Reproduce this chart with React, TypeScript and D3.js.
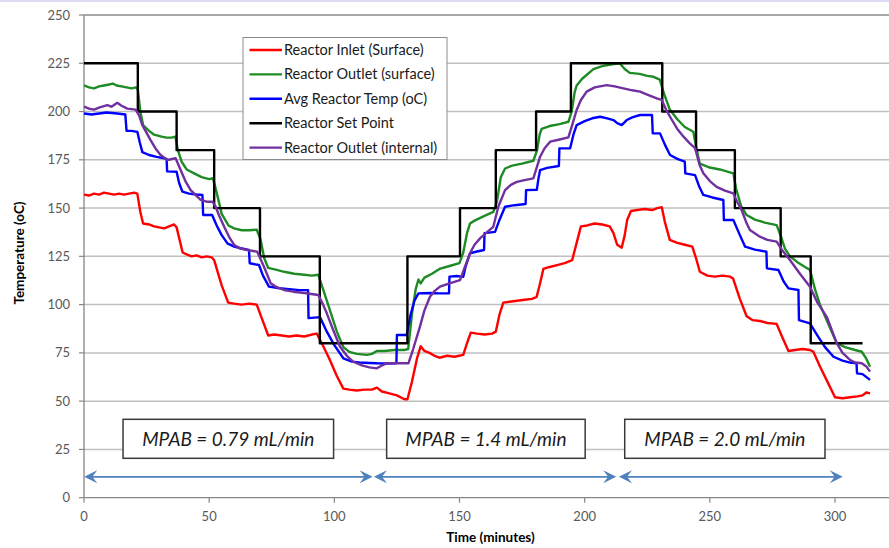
import React from "react";
import * as d3 from "d3";

type Pt = [number, number];

const yTicks = [0, 25, 50, 75, 100, 125, 150, 175, 200, 225, 250];
const xTicks = [0, 50, 100, 150, 200, 250, 300];

const seriesNames = [
  "Reactor Inlet (Surface)",
  "Reactor Outlet (surface)",
  "Avg Reactor Temp (oC)",
  "Reactor Set Point",
  "Reactor Outlet (internal)",
];
const seriesColors = ["#ff0000", "#1f8b24", "#0000ff", "#000000", "#7030a0"];

const setTimes = [0, 21.5, 37, 52, 70.3, 94.2, 129.2, 150.2, 164.5, 180.6, 194.5, 231, 244.5, 260, 278.3, 290.3, 311];
const setValues = [225, 200, 180, 150, 125, 80, 125, 150, 180, 200, 225, 200, 180, 150, 125, 80, 80];

const inletData: Pt[] = [
  [0, 157], [2, 156.5], [4, 157.5], [6, 157], [8, 158], [10, 157.5], [12, 157], [14, 157.5], [16, 157], [18, 157.5], [20, 158], [21.3, 157.5],
  [22.5, 148], [23.6, 142], [26, 141.5], [28, 140.5], [30, 140], [32, 139.5], [34, 140.5], [36, 141.5], [37, 140], [39.4, 127], [41, 126],
  [43, 125], [45, 125.5], [47, 124.5], [49, 125], [51, 124.5], [52, 123], [55, 110], [57.6, 101], [60, 100.5], [63, 100], [66, 100.5],
  [69, 100], [71, 93], [73.6, 84], [76, 84.5], [79, 84], [82, 83.5], [85, 84], [88, 83.5], [91, 84.5], [93, 85], [95, 80], [98, 72],
  [101, 63], [103.6, 56.5], [106, 56], [109, 55.5], [112, 56], [115, 56], [117, 57], [119, 55], [122, 54], [125, 53], [128, 51],
  [129.2, 51], [131, 60], [133, 72], [134.5, 78.5], [136, 76], [138, 75], [140, 73.5], [142, 72.5], [145, 73.5], [148, 73], [151.5, 74],
  [153, 80], [154.5, 85.5], [157, 85], [160, 84.5], [163, 85], [164.5, 86], [166, 95], [167.5, 101], [170, 101.5], [173, 102],
  [176, 102.5], [179, 103], [180.8, 104], [182, 110], [183.5, 118.5], [186, 119.5], [189, 120.5], [192, 121.5], [195, 123], [197, 133],
  [198.5, 140.5], [201, 141], [204, 142], [207, 141.5], [210, 140.5], [211.5, 137], [213, 131], [214.8, 129.5], [216, 136], [217, 144],
  [218.5, 148.5], [221, 149], [224, 149.5], [227, 149], [229, 150], [230.8, 150.5], [232, 143], [234, 133.5], [237, 132], [240, 131],
  [243, 130], [244.5, 124], [246, 117], [249, 115], [252, 114.5], [255, 115], [258, 114.5], [259.3, 113.5], [262, 103], [264.7, 94],
  [267, 92], [270, 91.5], [273, 90.5], [276.7, 90], [279, 83], [281.4, 76], [284, 76.5], [287, 77], [290, 76.5], [291.4, 75.5], [294, 68],
  [297, 60], [300, 52], [303, 51.5], [306, 52], [309, 52.5], [311, 53], [312.5, 54.5], [314, 54],
];

const outletSurfaceData: Pt[] = [
  [0, 213.5], [2, 212.5], [4, 212], [6, 213], [8, 213.5], [10, 214], [11.5, 214.5], [13, 213.5], [15, 213], [17, 212.5], [19, 212],
  [20.8, 212.5], [21.5, 211.5], [22.5, 200], [23.6, 193], [26, 190], [28, 188], [31, 187], [33, 186.5], [35, 186.5], [36.5, 187],
  [37.5, 180], [39, 174], [41, 170], [44, 168], [47, 166], [50, 165], [51.5, 165.5], [53, 158], [55, 147], [57.7, 141], [60, 139.5],
  [63, 138.5], [66, 138.5], [69, 138.8], [70.5, 134], [72, 124], [73.6, 119], [77, 118], [80, 117], [84, 116], [88, 115.5], [91, 115],
  [93.6, 115.5], [95, 110], [98, 98], [101, 86], [103.6, 78], [106, 75.5], [109, 74.5], [113, 74], [115, 74.5], [117, 76], [120, 76],
  [124, 76.5], [128, 76.5], [129.5, 77], [131, 95], [132.5, 108], [133.6, 113], [134.5, 111], [136, 114], [139, 116], [142, 118.5],
  [146, 120], [150, 121.5], [151.5, 127], [153, 137], [154.2, 142], [156, 143.5], [160, 146], [163.5, 148], [164.9, 153], [166.5, 166],
  [168.2, 170.5], [171, 172], [175, 173], [179.5, 174.5], [181, 180], [182, 188], [182.8, 191], [186, 192.5], [190, 193.5],
  [193.5, 194.7], [194.8, 200], [196, 210], [196.8, 213.5], [199, 217], [203.5, 222], [207, 223.5], [211, 224.5], [214, 225], [216, 222],
  [218, 220], [222, 219.5], [225, 218.5], [227.5, 218], [230, 216.5], [231.5, 210], [234, 201], [237, 196], [240, 192], [243.4, 189.5],
  [244.8, 180], [246, 173], [250, 171], [254, 170], [259.4, 168], [260.5, 160], [262.5, 151], [264.7, 146.4], [268, 144], [272, 142.5],
  [276.7, 141.2], [278.5, 135], [280, 129], [282, 125], [285, 122], [288, 119.5], [290, 118], [292, 108], [294, 100], [297, 91],
  [300.7, 80], [304, 78], [308, 76.5], [310.7, 75.6], [312.5, 72], [314, 67.8],
];

const avgTempData: Pt[] = [
  [0, 199], [3, 198.5], [6, 199], [9, 199.5], [13.3, 199], [16.5, 198.5], [17, 190], [19, 190], [21.3, 189.5], [22.3, 184], [23.3, 179],
  [26, 177.5], [29, 176.5], [32, 175.8], [33, 175.5], [33.2, 169], [37, 168.8], [38, 163], [39.3, 158.5], [42, 157.5], [45, 157],
  [47.3, 156.8], [47.6, 146.4], [51.2, 146.4], [53, 141], [55, 136], [57.3, 131.7], [60, 130], [62.6, 129.2], [65.9, 128.3],
  [66.2, 121.4], [69.9, 120.5], [71.5, 115], [73.9, 109.3], [78, 108.5], [82, 108], [86, 107.5], [89.5, 107.5], [89.7, 93], [94.3, 93.5],
  [97, 86], [100, 79], [103.6, 72.2], [107, 70.5], [110, 70], [114, 69.8], [117, 69.6], [121, 69.5], [124.8, 69.6], [125, 84.3],
  [128.9, 84.3], [130.5, 95], [132, 102], [133.6, 105.8], [138, 106], [142, 105.8], [145.8, 105.8], [146, 114.5], [149, 114.8],
  [151.5, 114.4], [152.5, 120], [154.2, 126.6], [157, 127.5], [159.8, 128.3], [160, 137], [164.2, 137.7], [166, 144], [168.2, 150.7],
  [172, 151.5], [176.4, 152.1], [176.6, 159.3], [180.9, 159.5], [181.5, 165], [182.2, 169.7], [185, 170.8], [189.7, 171.8],
  [189.9, 180.9], [194.2, 181], [195.5, 188], [196.8, 193], [200, 195], [203, 196.5], [206.2, 197.3], [209, 196.5], [211.5, 195.6],
  [213, 194], [214.8, 193], [216.8, 195.6], [219, 197], [222.1, 198.2], [226.9, 198.2], [227.2, 188.7], [230.1, 188.7], [232, 183],
  [234.1, 177.5], [237, 175.5], [240, 174], [240.2, 168], [244.1, 167.1], [245.8, 161], [247.4, 156.8], [251, 155.5], [255.4, 154.2],
  [255.6, 143.8], [259.4, 143.8], [262, 136], [264.1, 130], [268, 128.5], [272.6, 127.4], [272.8, 118.8], [277.4, 117.9], [279.5, 112],
  [281.4, 108.4], [285.4, 107.6], [285.6, 92], [290, 90.3], [293, 84], [296, 78], [299.4, 73], [303, 71], [306, 70], [308.6, 69.6],
  [308.8, 64.4], [311, 64], [314, 61],
];

const outletInternalData: Pt[] = [
  [0, 202.5], [2, 201.5], [4, 201], [6, 202], [9.3, 203.3], [11, 202.5], [13.3, 204.5], [15, 203], [17.3, 201.5], [20.6, 201], [22, 198],
  [23.3, 193], [26.6, 185.2], [28.5, 181], [30.6, 177.5], [33.3, 174.9], [36.6, 175.8], [38.6, 169.7], [40.5, 164], [42.6, 159.3],
  [46.6, 154.2], [49, 153.3], [51.3, 153.3], [52.6, 150.7], [54, 146], [56, 140.3], [58, 135], [60, 130.9], [62.5, 129], [65.2, 128.3],
  [69.2, 127.4], [71.9, 119.6], [74.6, 111], [77, 109], [79.9, 107.6], [83.6, 106.7], [88, 106], [93.6, 105], [95.5, 100], [97, 95.5],
  [99.5, 87], [102.3, 78.2], [105, 73.5], [107.6, 70.4], [111, 68.5], [114, 67.5], [117, 67], [119, 68.5], [120.9, 69.6], [125, 69.6],
  [129.6, 69.6], [131.5, 77], [134.2, 88.6], [136, 97], [138.2, 104.1], [140, 107], [142.2, 109.3], [146, 111], [150.2, 112.7], [152, 119],
  [154.2, 126.6], [156, 131], [158.2, 134.3], [161, 137.5], [163.5, 140.3], [165.5, 150.7], [168.2, 159.3], [170.5, 162], [172.9, 163.6],
  [176, 164.5], [179.5, 165.4], [182.2, 176.6], [184, 181], [186.2, 184.4], [190, 185.5], [193.5, 186.6], [195, 193], [196.8, 200.8],
  [198.5, 206], [200.8, 210.3], [204, 212.5], [208.8, 213.7], [212, 213], [215.5, 212], [219, 211], [222.1, 210.3], [225.5, 208.5],
  [228.8, 206.8], [230.8, 206], [232.5, 201], [234.1, 197.3], [237, 191], [239.5, 187], [242, 183.5], [244.1, 181], [246, 172],
  [247.4, 168], [250, 164], [252.7, 161], [256, 159], [259.4, 157.6], [261, 153], [262.7, 149], [264.7, 142.1], [266, 138.6],
  [270, 135.2], [273, 133.5], [276.7, 132.6], [279, 128], [282, 123.1], [286, 116], [290, 109.3], [293, 101], [296.7, 93.7],
  [300.7, 80], [303, 75], [306.1, 71.3], [308, 70], [310.7, 69.6], [312.5, 68], [314, 65.3],
];

// annotation boxes (time range, value range) and labels
const flowLabels = ["MPAB = 0.79 mL/min", "MPAB = 1.4 mL/min", "MPAB = 2.0 mL/min"];
const flowBoxStart = [15.6, 120.9, 216];
const flowBoxEnd = [99.7, 200.2, 296];
const flowBoxLow = 20.4;
const flowBoxHigh = 40.6;
const arrowStart = [0.1, 115.8, 213.7];
const arrowEnd = [115.3, 212.6, 303.1];
const arrowLevel = 10.8;

const W = 889;
const H = 548;

export default function App() {
  const x = d3.scaleLinear().domain([0, 300]).range([84, 835]);
  const y = d3.scaleLinear().domain([0, 250]).range([497.7, 15]);
  const plotRight = W;

  const line = d3
    .line<Pt>()
    .x((d) => x(d[0]))
    .y((d) => y(d[1]));
  const stepLine = d3
    .line<Pt>()
    .x((d) => x(d[0]))
    .y((d) => y(d[1]))
    .curve(d3.curveStepAfter);

  const setData: Pt[] = setTimes.map((t, i) => [t, setValues[i]]);
  const series: { data: Pt[]; step?: boolean }[] = [
    { data: inletData },
    { data: outletSurfaceData },
    { data: avgTempData },
    { data: setData, step: true },
    { data: outletInternalData },
  ];

  const font = "Lato, 'Open Sans', sans-serif";
  const arrowColor = "#4f81bd";

  const arrowHead = (tipX: number, tipY: number, dir: number) => {
    const L = 13;
    const Hw = 6.5;
    const back = tipX - dir * L;
    const notch = tipX - dir * L * 0.62;
    return `M${tipX},${tipY} L${back},${tipY - Hw} L${notch},${tipY} L${back},${tipY + Hw} Z`;
  };

  return (
    <svg
      width={W}
      height={H}
      style={{ position: "absolute", left: 0, top: 0, background: "#fff" }}
      fontFamily={font}
    >
      <rect x={0} y={0} width={W} height={H} fill="#fff" />
      <rect x={0} y={0} width={W} height={2} fill="#dcdcf4" />
      {/* gridlines */}
      {yTicks.map((t) =>
        t === 0 ? null : (
          <line
            key={"g" + t}
            x1={x(0)}
            x2={plotRight}
            y1={y(t)}
            y2={y(t)}
            stroke={t === 250 ? "#8c8c8c" : "#bfbfbf"}
            strokeWidth={1.5}
          />
        )
      )}
      {/* axes */}
      <line x1={x(0)} x2={x(0)} y1={y(250)} y2={y(0)} stroke="#868686" strokeWidth={1.3} />
      <line x1={x(0)} x2={plotRight} y1={y(0)} y2={y(0)} stroke="#868686" strokeWidth={1.3} />
      {yTicks.map((t) => (
        <g key={"yt" + t}>
          <line x1={x(0) - 5} x2={x(0)} y1={y(t)} y2={y(t)} stroke="#868686" strokeWidth={1.2} />
          <text x={70} y={y(t)} dy="0.35em" textAnchor="end" fontSize={13} fill="#595959">
            {t}
          </text>
        </g>
      ))}
      {xTicks.map((t) => (
        <g key={"xt" + t}>
          <line x1={x(t)} x2={x(t)} y1={y(0)} y2={y(0) + 5} stroke="#868686" strokeWidth={1.2} />
          <text x={x(t)} y={520.5} textAnchor="middle" fontSize={13} fill="#595959">
            {t}
          </text>
        </g>
      ))}
      <text
        transform={`translate(24,253) rotate(-90)`}
        textAnchor="middle"
        fontSize={13.5}
        fontWeight="bold"
        fill="#000"
      >
        Temperature (oC)
      </text>
      <text x={490.5} y={541.5} textAnchor="middle" fontSize={13.5} fontWeight="bold" fill="#000">
        Time (minutes)
      </text>

      {/* flow rate annotations */}
      {flowLabels.map((lab, i) => (
        <g key={"box" + i}>
          <rect
            x={x(flowBoxStart[i])}
            y={y(flowBoxHigh)}
            width={x(flowBoxEnd[i]) - x(flowBoxStart[i])}
            height={y(flowBoxLow) - y(flowBoxHigh)}
            fill="#fff"
            stroke="#3a3a3a"
            strokeWidth={1.5}
          />
          <text
            x={(x(flowBoxStart[i]) + x(flowBoxEnd[i])) / 2}
            y={(y(flowBoxLow) + y(flowBoxHigh)) / 2}
            dy="0.36em"
            textAnchor="middle"
            fontSize={19}
            fontStyle="italic"
            fill="#1a1a1a"
          >
            {lab}
          </text>
        </g>
      ))}
      {arrowStart.map((s, i) => {
        const x1 = x(s);
        const x2 = x(arrowEnd[i]);
        const yy = y(arrowLevel);
        return (
          <g key={"ar" + i}>
            <line x1={x1 + 6} x2={x2 - 6} y1={yy} y2={yy} stroke={arrowColor} strokeWidth={1.6} />
            <path d={arrowHead(x1, yy, -1)} fill={arrowColor} />
            <path d={arrowHead(x2, yy, 1)} fill={arrowColor} />
          </g>
        );
      })}

      {/* data series */}
      {series.map((s, i) => (
        <path
          key={"s" + i}
          d={(s.step ? stepLine : line)(s.data) || ""}
          fill="none"
          stroke={seriesColors[i]}
          strokeWidth={2.4}
          strokeLinejoin="round"
        />
      ))}

      {/* legend */}
      <rect x={243} y={37.5} width={204} height={122} fill="#fff" stroke="#8c8c8c" strokeWidth={1} />
      {seriesNames.map((n, i) => {
        const ly = 50 + i * 24.4;
        return (
          <g key={"lg" + i}>
            <line x1={249.5} x2={282} y1={ly} y2={ly} stroke={seriesColors[i]} strokeWidth={2.4} />
            <text x={284} y={ly} dy="0.35em" fontSize={14.5} fill="#1a1a1a">
              {n}
            </text>
          </g>
        );
      })}
    </svg>
  );
}
